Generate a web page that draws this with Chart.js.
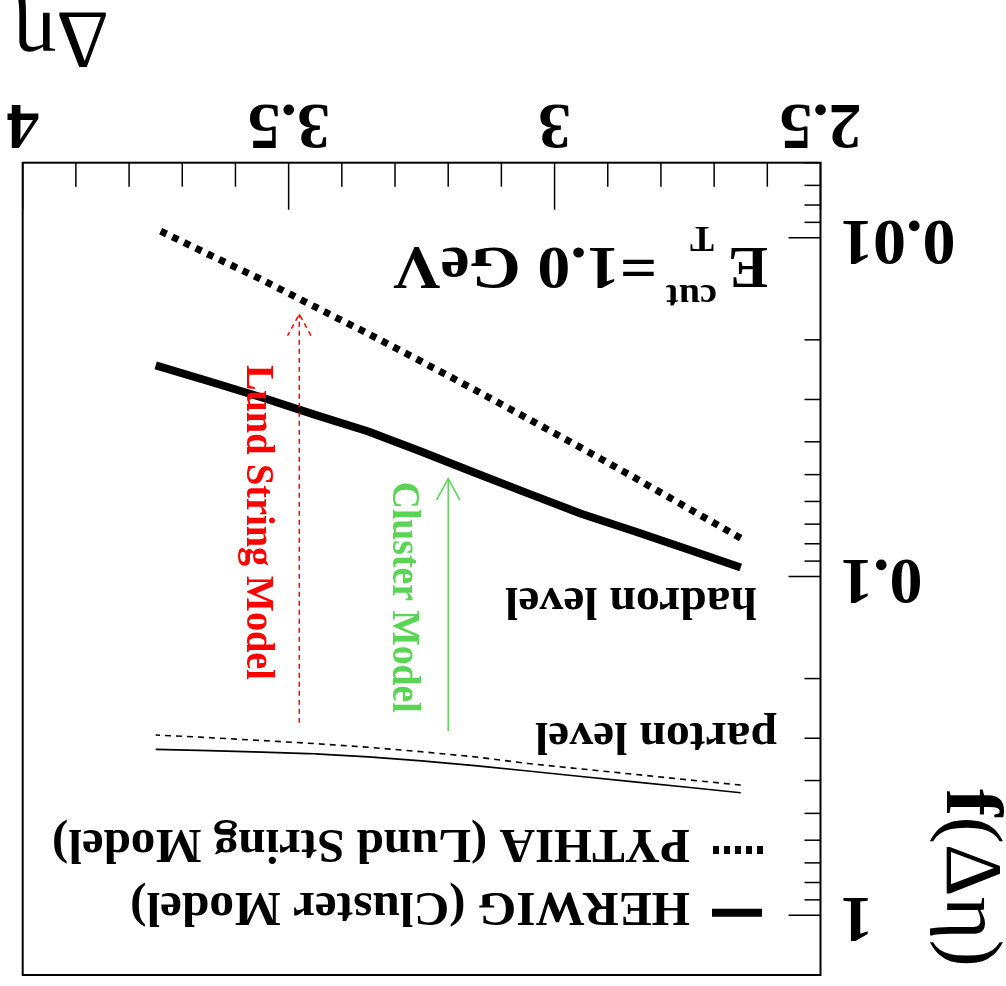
<!DOCTYPE html>
<html><head><meta charset="utf-8">
<script src="https://cdn.jsdelivr.net/npm/chart.js@4.4.1/dist/chart.umd.min.js"></script>
<style>
html,body{margin:0;padding:0;background:#fff;overflow:hidden}
#wrap{width:1006px;height:986px;transform:rotate(180deg);transform-origin:50% 50%;background:#fff}
canvas{display:block}
</style></head><body>
<div id="wrap"><canvas id="c" width="1006" height="986"></canvas></div>
<script>
// ---- data ----
const deltaEta      = [2.65, 2.75, 2.85, 2.95, 3.05, 3.15, 3.25, 3.35, 3.45, 3.55, 3.65, 3.75];
const herwigHadron  = [0.094, 0.083, 0.0735, 0.0652, 0.0568, 0.0494, 0.0428, 0.0373, 0.0333, 0.0296, 0.0265, 0.0238];
const pythiaHadron  = [0.0770, 0.0627, 0.0510, 0.0417, 0.0342, 0.0281, 0.0232, 0.0192, 0.0160, 0.0133, 0.0112, 0.0094];
const herwigParton  = [0.4344, 0.4188, 0.4036, 0.3890, 0.3748, 0.3614, 0.3500, 0.3405, 0.3337, 0.3298, 0.3264, 0.3236];
const pythiaParton  = [0.4125, 0.3978, 0.3835, 0.3696, 0.3563, 0.3405, 0.3289, 0.3191, 0.3112, 0.3048, 0.2987, 0.2935];
const xTickLabels   = ['2.5', '3', '3.5', '4'];
const yTickLabels   = ['0.01', '0.1', '1'];
const seriesNames   = ['HERWIG (Cluster Model)', 'PYTHIA (Lund String Model)'];
const levelLabels   = ['hadron level', 'parton level'];
const arrowLabels   = ['Lund String Model', 'Cluster Model'];
const xRange = [2.5, 4.0];
const yRange = [0.006, 1.5];
// arrows (data space): x, from f, to f
const lundArrow    = {x: 3.48, from: 0.27,  to: 0.0168};
const clusterArrow = {x: 3.20, from: 0.286, to: 0.0514};

const SERIF = "'Liberation Serif','Times New Roman',serif";
const GREEN = '#59d454';
const RED = '#ff0000';

function fitText(ctx, s, x, y, font, w) {
  ctx.save();
  ctx.font = font;
  const m = ctx.measureText(s).width;
  ctx.translate(x, y);
  if (w) ctx.scale(w / m, 1);
  ctx.fillText(s, 0, 0);
  ctx.restore();
}
function vText(ctx, s, x, y, font, color, w) {
  ctx.save();
  ctx.font = font; ctx.fillStyle = color;
  ctx.translate(x, y); ctx.rotate(-Math.PI / 2);
  const m = ctx.measureText(s).width;
  if (w) ctx.scale(w / m, 1);
  ctx.textAlign = 'left'; ctx.textBaseline = 'alphabetic';
  ctx.fillText(s, 0, 0);
  ctx.restore();
}
function arrow(ctx, xs, ys, a, color, dash) {
  const x = xs.getPixelForValue(a.x);
  const y0 = ys.getPixelForValue(a.from);
  const y1 = ys.getPixelForValue(a.to);
  ctx.save();
  ctx.strokeStyle = color; ctx.lineWidth = 1.5; ctx.setLineDash(dash);
  ctx.beginPath(); ctx.moveTo(x, y0); ctx.lineTo(x, y1); ctx.stroke();
  ctx.beginPath();
  ctx.moveTo(x - 11.7, y1 - 21.5); ctx.lineTo(x, y1); ctx.lineTo(x + 11.7, y1 - 21.5);
  ctx.stroke();
  ctx.restore();
}

const framePlugin = {
  id: 'frame',
  afterDraw(chart) {
    const {ctx, chartArea: a, scales: {x, y}} = chart;
    ctx.save();
    ctx.strokeStyle = '#000';
    ctx.lineWidth = 1.5;
    x.ticks.forEach(t => {
      const px = x.getPixelForValue(t.value);
      const major = xTickLabels.includes(String(Math.round(t.value * 10) / 10));
      const len = major ? 47 : 24;
      ctx.beginPath(); ctx.moveTo(px, a.bottom); ctx.lineTo(px, a.bottom - len); ctx.stroke();
    });
    y.ticks.forEach(t => {
      const py = y.getPixelForValue(t.value);
      const major = yTickLabels.some(l => Math.abs(parseFloat(l) - t.value) < 1e-9);
      const len = major ? 32 : 16;
      ctx.beginPath(); ctx.moveTo(a.left, py); ctx.lineTo(a.left + len, py); ctx.stroke();
    });
    ctx.lineWidth = 2;
    ctx.strokeRect(a.left, a.top, a.right - a.left, a.bottom - a.top);
    ctx.restore();
  }
};

const annotPlugin = {
  id: 'annot',
  afterDraw(chart) {
    const {ctx, scales: {x, y}} = chart;
    ctx.save();
    ctx.fillStyle = '#000';
    ctx.textBaseline = 'alphabetic';
    ctx.textAlign = 'left';
    // legend
    ctx.strokeStyle = '#000';
    ctx.lineWidth = 8; ctx.setLineDash([]);
    ctx.beginPath(); ctx.moveTo(244, 73.3); ctx.lineTo(294, 73.3); ctx.stroke();
    ctx.lineWidth = 8; ctx.setLineDash([6, 5]);
    ctx.beginPath(); ctx.moveTo(243, 136); ctx.lineTo(293, 136); ctx.stroke();
    ctx.setLineDash([]);
    fitText(ctx, seriesNames[0], 316, 93, 'bold 49px ' + SERIF, 560);
    fitText(ctx, seriesNames[1], 316, 156, 'bold 49px ' + SERIF, 638);
    // level labels
    fitText(ctx, levelLabels[1], 229, 263, 'bold 47px ' + SERIF, 242);
    fitText(ctx, levelLabels[0], 249, 398, 'bold 47px ' + SERIF, 252);
    // E_T^cut = 1.0 GeV
    fitText(ctx, 'E', 238, 737.7, 'bold 60px ' + SERIF);
    fitText(ctx, 'cut', 289, 701, 'bold 36px ' + SERIF, 51);
    fitText(ctx, 'T', 292, 759, 'bold 36px ' + SERIF);
    fitText(ctx, '=1.0 GeV', 349, 737.7, 'bold 62px ' + SERIF, 264);
    // axis titles
    fitText(ctx, 'Δη', 897, 973, '82px ' + SERIF);
    ctx.save();
    ctx.translate(59, 197); ctx.rotate(-Math.PI / 2);
    ctx.font = 'bold 80px ' + SERIF;
    const fw = ctx.measureText('f').width;
    ctx.font = '80px ' + SERIF;
    const pw = ctx.measureText('(Δη)').width;
    ctx.scale(178 / (fw + pw), 1);
    ctx.font = 'bold 80px ' + SERIF;
    ctx.fillText('f', 0, 0);
    ctx.font = '80px ' + SERIF;
    ctx.fillText('(Δη)', fw, 0);
    ctx.restore();
    // arrows
    arrow(ctx, x, y, lundArrow, RED, [5, 4]);
    arrow(ctx, x, y, clusterArrow, GREEN, []);
    vText(ctx, arrowLabels[0], 759, 621, 'bold 39px ' + SERIF, RED, 315);
    vText(ctx, arrowLabels[1], 612.7, 504.3, 'bold 39px ' + SERIF, GREEN, 231);
    ctx.restore();
  }
};

const tickFont = {family: SERIF, weight: 'bold', size: 66};
const mk = arr => deltaEta.map((v, i) => ({x: v, y: arr[i]}));

new Chart(document.getElementById('c'), {
  type: 'line',
  data: {
    datasets: [
      {label: seriesNames[0] + ' hadron', data: mk(herwigHadron), borderColor: '#000', borderWidth: 8, pointRadius: 0, borderCapStyle: 'butt', fill: false},
      {label: seriesNames[1] + ' hadron', data: mk(pythiaHadron), borderColor: '#000', borderWidth: 7, borderDash: [6.5, 6.5], pointRadius: 0, borderCapStyle: 'butt', fill: false},
      {label: seriesNames[0] + ' parton', data: mk(herwigParton), borderColor: '#000', borderWidth: 1.6, pointRadius: 0, fill: false},
      {label: seriesNames[1] + ' parton', data: mk(pythiaParton), borderColor: '#000', borderWidth: 1.6, borderDash: [6, 5], pointRadius: 0, fill: false}
    ]
  },
  options: {
    responsive: false, animation: false, devicePixelRatio: 1,
    layout: {padding: {left: 0, right: 22.7, top: 11, bottom: 0}},
    plugins: {legend: {display: false}, tooltip: {enabled: false}},
    scales: {
      x: {
        type: 'linear', position: 'bottom', min: xRange[0], max: xRange[1],
        grid: {display: false, drawTicks: false, tickLength: 0}, border: {display: false},
        afterBuildTicks: s => { const t = []; for (let i = 25; i <= 40; i++) t.push({value: i / 10}); s.ticks = t; },
        afterFit: s => { s.height = 162.7; s.paddingLeft = 0; s.paddingRight = 0; },
        ticks: {autoSkip: false, maxRotation: 0, minRotation: 0, padding: 0.6, font: tickFont, color: '#000',
          callback: v => { const s = String(Math.round(v * 10) / 10); return xTickLabels.includes(s) ? s : ''; }}
      },
      y: {
        type: 'logarithmic', position: 'left', min: yRange[0], max: yRange[1],
        grid: {display: false, drawTicks: false, tickLength: 0}, border: {display: false},
        afterBuildTicks: s => {
          const t = [];
          for (let e = -3; e <= 0; e++) for (let m = 1; m <= 9; m++) {
            const v = m * Math.pow(10, e);
            if (v >= yRange[0] * 0.999 && v <= yRange[1] * 1.001) t.push({value: v});
          }
          s.ticks = t;
        },
        afterFit: s => { s.width = 185.5; s.paddingTop = 0; s.paddingBottom = 0; },
        ticks: {autoSkip: false, padding: 19.5, font: tickFont, color: '#000',
          callback: v => { const l = yTickLabels.find(l => Math.abs(parseFloat(l) - v) < 1e-9); return l || ''; }}
      }
    }
  },
  plugins: [framePlugin, annotPlugin]
});
</script>
</body></html>
